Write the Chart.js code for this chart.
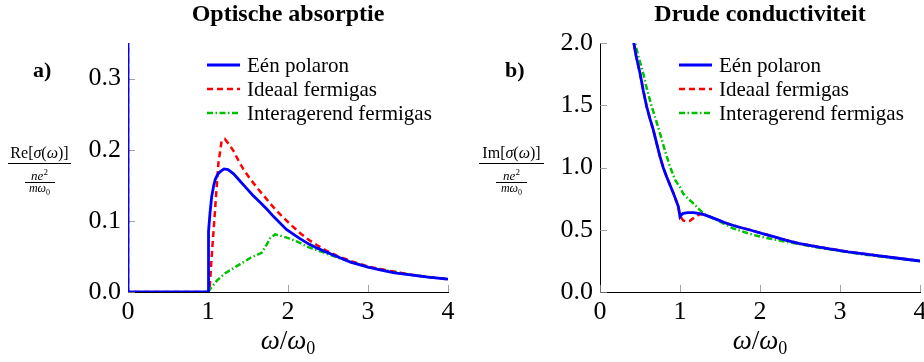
<!DOCTYPE html>
<html>
<head>
<meta charset="utf-8">
<script src="https://cdn.jsdelivr.net/npm/chart.js@4.4.0/dist/chart.umd.min.js"></script>
<style>
  body { margin: 0; background: #fff; }
  #wrap { position: relative; width: 924px; height: 362px; overflow: hidden;
          font-family: 'Liberation Serif', 'DejaVu Serif', serif; color: #000; }
  canvas { position: absolute; top: 0; }
  .txt { position: absolute; white-space: nowrap; }
  .title { top: 1px; width: 320px; text-align: center; font-weight: bold; font-size: 24px; line-height: 24px; }
  .panel { top: 59px; font-weight: bold; font-size: 22px; line-height: 22px; }
  .xlab { top: 327px; width: 320px; text-align: center; font-size: 27px; line-height: 27px; }
  .xlab sub { font-size: 18px; vertical-align: -5px; line-height: 0; }
  .num { top: 145px; text-align: center; font-size: 16px; line-height: 16px; }
  .dnum { top: 169px; text-align: center; font-size: 13px; line-height: 13px; font-style: italic; }
  .dnum sup { font-size: 9px; vertical-align: 5px; line-height: 0; font-style: normal; }
  .dden { top: 182px; text-align: center; font-size: 12px; line-height: 12px; font-style: italic; }
  .dden sub { font-size: 8px; vertical-align: -3px; line-height: 0; font-style: normal; }
  .bar { position: absolute; height: 1px; background: #000; }
</style>
</head>
<body>
<div id="wrap">
  <canvas id="chartA" width="462" height="362" style="left:0"></canvas>
  <canvas id="chartB" width="462" height="362" style="left:462px"></canvas>

  <div class="txt title" style="left:128px">Optische absorptie</div>
  <div class="txt title" style="left:600px">Drude conductiviteit</div>
  <div class="txt panel" style="left:33px">a)</div>
  <div class="txt panel" style="left:505px">b)</div>

  <!-- y-axis labels as stacked fractions -->
  <div class="txt num" style="left:8px;width:63px">Re[<i>σ</i>(<i>ω</i>)]</div>
  <div class="bar" style="left:8px;width:63px;top:163px"></div>
  <div class="txt dnum" style="left:8px;width:63px"><i>ne</i><sup>2</sup></div>
  <div class="bar" style="left:25px;width:30px;top:182px"></div>
  <div class="txt dden" style="left:8px;width:63px"><i>mω</i><sub>0</sub></div>

  <div class="txt num" style="left:479px;width:65px">Im[<i>σ</i>(<i>ω</i>)]</div>
  <div class="bar" style="left:479px;width:65px;top:163px"></div>
  <div class="txt dnum" style="left:479px;width:65px"><i>ne</i><sup>2</sup></div>
  <div class="bar" style="left:496px;width:31px;top:182px"></div>
  <div class="txt dden" style="left:479px;width:65px"><i>mω</i><sub>0</sub></div>

  <div class="txt xlab" style="left:128px"><i>ω</i>/<i>ω</i><sub>0</sub></div>
  <div class="txt xlab" style="left:600px"><i>ω</i>/<i>ω</i><sub>0</sub></div>
</div>

<script>
const seriesLabels = ['Eén polaron', 'Ideaal fermigas', 'Interagerend fermigas'];
const xTicks = [0, 1, 2, 3, 4];
const absTicks = [0, 0.1, 0.2, 0.3];
const drudeTicks = [0, 0.5, 1, 1.5, 2];

// Optische absorptie: Re[sigma] / (n e^2 / m w0)
const absPolaronX = [0, 0, 0.5, 1.0, 1.003, 1.01, 1.025, 1.046, 1.07, 1.09, 1.12, 1.15, 1.2, 1.25, 1.32, 1.4, 1.48, 1.56, 1.65, 1.74, 1.82, 1.9, 1.98, 2.07, 2.15, 2.25, 2.36, 2.48, 2.61, 2.78, 3.0, 3.15, 3.33, 3.53, 3.75, 4.0];
const absPolaronY = [0.4, 0, 0, 0, 0.05, 0.085, 0.111, 0.134, 0.149, 0.158, 0.165, 0.169, 0.173, 0.172, 0.166, 0.156, 0.146, 0.136, 0.126, 0.116, 0.106, 0.097, 0.088, 0.081, 0.075, 0.068, 0.062, 0.056, 0.050, 0.042, 0.035, 0.031, 0.027, 0.024, 0.021, 0.018];

const absIdealX = [0, 0, 1.0, 1.02, 1.035, 1.046, 1.07, 1.1, 1.13, 1.17, 1.21, 1.26, 1.32, 1.38, 1.44, 1.52, 1.61, 1.7, 1.78, 1.86, 1.94, 2.05, 2.15, 2.25, 2.36, 2.48, 2.61, 2.8, 3.0, 3.25, 3.5, 3.75, 4.0];
const absIdealY = [0.4, 0, 0, 0.005, 0.03, 0.05, 0.087, 0.134, 0.181, 0.212, 0.215, 0.208, 0.198, 0.185, 0.173, 0.160, 0.147, 0.135, 0.124, 0.114, 0.105, 0.093, 0.083, 0.074, 0.066, 0.058, 0.051, 0.043, 0.036, 0.030, 0.025, 0.021, 0.018];

const absInterX = [1.0, 1.046, 1.12, 1.21, 1.37, 1.53, 1.67, 1.73, 1.78, 1.84, 1.94, 2.02, 2.11, 2.2, 2.28, 2.38, 2.48, 2.61, 2.8, 3.0, 3.25, 3.5, 3.75, 4.0];
const absInterY = [0, 0.007, 0.017, 0.026, 0.037, 0.048, 0.055, 0.066, 0.076, 0.081, 0.078, 0.075, 0.071, 0.066, 0.062, 0.058, 0.054, 0.049, 0.042, 0.035, 0.030, 0.025, 0.021, 0.018];

// Drude conductiviteit: Im[sigma] / (n e^2 / m w0)
const drudePolaronX = [0.40, 0.417, 0.45, 0.5, 0.54, 0.583, 0.625, 0.667, 0.71, 0.75, 0.79, 0.833, 0.875, 0.92, 0.96, 0.98, 1.0, 1.02, 1.04, 1.1, 1.17, 1.23, 1.29, 1.37, 1.45, 1.58, 1.72, 1.875, 2.02, 2.17, 2.32, 2.48, 2.65, 2.83, 3.1, 3.42, 3.7, 4.0];
const drudePolaronY = [2.07, 2.02, 1.9, 1.757, 1.62, 1.49, 1.39, 1.30, 1.19, 1.087, 1.0, 0.926, 0.86, 0.79, 0.72, 0.685, 0.605, 0.622, 0.632, 0.638, 0.637, 0.632, 0.624, 0.605, 0.585, 0.552, 0.524, 0.498, 0.471, 0.444, 0.417, 0.391, 0.371, 0.351, 0.323, 0.297, 0.273, 0.249];

const drudeIdealX = [0.40, 0.417, 0.45, 0.5, 0.54, 0.583, 0.625, 0.667, 0.71, 0.75, 0.79, 0.833, 0.875, 0.92, 0.96, 0.98, 1.0, 1.04, 1.08, 1.12, 1.19, 1.25, 1.29, 1.37, 1.45, 1.58, 1.72, 1.875, 2.02, 2.17, 2.32, 2.48, 2.65, 2.83, 3.1, 3.42, 3.7, 4.0];
const drudeIdealY = [2.07, 2.02, 1.9, 1.757, 1.62, 1.49, 1.39, 1.30, 1.19, 1.087, 1.0, 0.926, 0.86, 0.79, 0.72, 0.68, 0.61, 0.575, 0.565, 0.57, 0.605, 0.625, 0.624, 0.606, 0.586, 0.553, 0.525, 0.499, 0.472, 0.445, 0.418, 0.392, 0.372, 0.352, 0.324, 0.298, 0.274, 0.250];

const drudeInterX = [0.42, 0.4375, 0.49, 0.54, 0.59, 0.646, 0.7, 0.75, 0.81, 0.875, 0.94, 1.0, 1.04, 1.1, 1.17, 1.23, 1.29, 1.37, 1.46, 1.56, 1.67, 1.8, 1.92, 2.06, 2.21, 2.34, 2.48, 2.7, 3.0, 3.25, 3.5, 3.75, 4.0];
const drudeInterY = [2.06, 2.0, 1.87, 1.757, 1.62, 1.49, 1.38, 1.275, 1.14, 1.006, 0.9, 0.84, 0.79, 0.75, 0.71, 0.67, 0.632, 0.603, 0.578, 0.545, 0.51, 0.482, 0.458, 0.437, 0.418, 0.402, 0.386, 0.36, 0.33, 0.305, 0.285, 0.266, 0.249];

const serif = "'Liberation Serif', 'DejaVu Serif', serif";
const lineStyles = [
    { borderColor: '#0000ff', borderWidth: 2.8, borderDash: [] },
    { borderColor: '#ff0000', borderWidth: 2.5, borderDash: [6, 4] },
    { borderColor: '#00c000', borderWidth: 2.5, borderDash: [6, 2.5, 1.5, 2.5] }
];

function points(xs, ys) {
    return xs.map((x, i) => ({ x: x, y: ys[i] }));
}

// pgfplots-style ticks pointing into the plot, plus the legend in the upper right
const axisDecor = {
    id: 'axisDecor',
    beforeDatasetsDraw(chart) {
        const { ctx, chartArea, scales } = chart;
        ctx.save();
        ctx.strokeStyle = '#8c8c8c';
        ctx.lineWidth = 0.8;
        ctx.beginPath();
        scales.x.ticks.forEach(t => {
            const px = Math.round(scales.x.getPixelForValue(t.value)) + 0.5;
            ctx.moveTo(px, chartArea.bottom);
            ctx.lineTo(px, chartArea.bottom - 7);
        });
        scales.y.ticks.forEach(t => {
            const py = Math.round(scales.y.getPixelForValue(t.value)) + 0.5;
            ctx.moveTo(chartArea.left, py);
            ctx.lineTo(chartArea.left + 7, py);
        });
        ctx.stroke();
        ctx.restore();
    },
    afterDatasetsDraw(chart) {
        const { ctx, chartArea } = chart;
        const x0 = chartArea.left + 79;
        ctx.save();
        ctx.font = '21px ' + serif;
        ctx.textBaseline = 'alphabetic';
        chart.data.datasets.forEach((ds, i) => {
            const y = chartArea.top + 22 + i * 24;
            ctx.strokeStyle = ds.borderColor;
            ctx.lineWidth = ds.borderWidth;
            ctx.setLineDash(ds.borderDash);
            ctx.beginPath();
            ctx.moveTo(x0, y);
            ctx.lineTo(x0 + 33, y);
            ctx.stroke();
            ctx.setLineDash([]);
            ctx.fillStyle = '#000';
            ctx.fillText(ds.label, x0 + 40, y + 6.5);
        });
        ctx.restore();
    }
};

function makeChart(id, series, yMax, yTicks, pad) {
    const datasets = series.map((s, i) => Object.assign({
        label: seriesLabels[i],
        data: points(s[0], s[1]),
        pointRadius: 0,
        tension: 0,
        fill: false
    }, lineStyles[i]));

    return new Chart(document.getElementById(id), {
        type: 'line',
        data: { datasets: datasets },
        options: {
            responsive: false,
            animation: false,
            layout: { padding: pad },
            plugins: { legend: { display: false }, tooltip: { enabled: false } },
            scales: {
                x: {
                    type: 'linear', min: 0, max: 4,
                    afterBuildTicks: s => { s.ticks = xTicks.map(v => ({ value: v })); },
                    afterFit: s => { s.height = 40; s.paddingLeft = 0; s.paddingRight = 0; },
                    ticks: { color: '#000', font: { family: serif, size: 26 }, padding: 5, maxRotation: 0, callback: v => String(v) },
                    grid: { drawOnChartArea: false, drawTicks: false },
                    border: { color: '#000', width: 1 }
                },
                y: {
                    type: 'linear', min: 0, max: yMax,
                    afterBuildTicks: s => { s.ticks = yTicks.map(v => ({ value: v })); },
                    afterFit: s => { s.width = 50; s.paddingTop = 0; s.paddingBottom = 0; },
                    ticks: { color: '#000', font: { family: serif, size: 26 }, padding: 7, callback: v => v.toFixed(1) },
                    grid: { drawOnChartArea: false, drawTicks: false },
                    border: { color: '#000', width: 1 }
                }
            }
        },
        plugins: [axisDecor]
    });
}

makeChart('chartA', [
    [absPolaronX, absPolaronY],
    [absIdealX, absIdealY],
    [absInterX, absInterY]
], 0.35, absTicks, { left: 78, right: 14, top: 43, bottom: 30 });

makeChart('chartB', [
    [drudePolaronX, drudePolaronY],
    [drudeIdealX, drudeIdealY],
    [drudeInterX, drudeInterY]
], 2.0, drudeTicks, { left: 88, right: 4, top: 43, bottom: 30 });
</script>
</body>
</html>
